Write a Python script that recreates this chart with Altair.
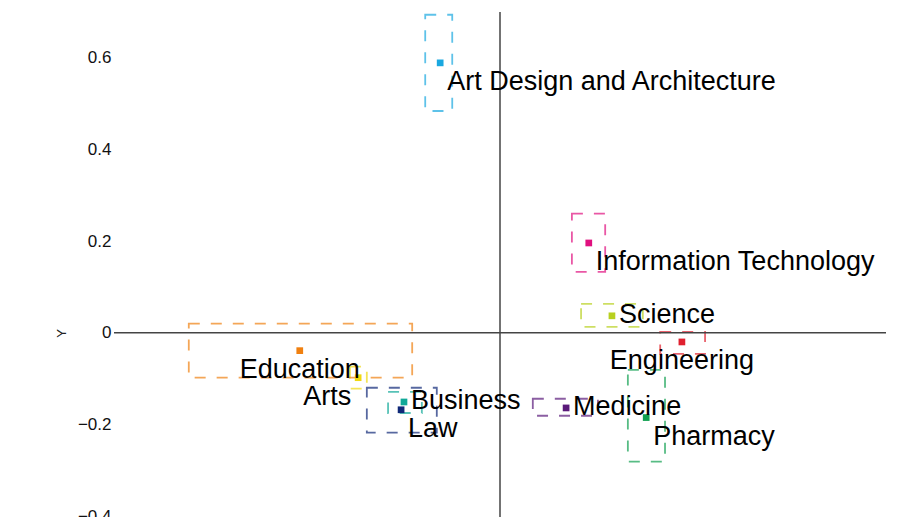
import altair as alt
import pandas as pd

categories = ["Art Design and Architecture", "Information Technology", "Science",
              "Engineering", "Pharmacy", "Medicine", "Business", "Law", "Arts", "Education"]
x_vals = [-0.124, 0.184, 0.232, 0.377, 0.303, 0.137, -0.199, -0.205, -0.294, -0.415]
y_vals = [0.589, 0.196, 0.037, -0.020, -0.185, -0.164, -0.151, -0.168, -0.098, -0.039]
x_lo = [-0.155, 0.149, 0.168, 0.332, 0.265, 0.068, -0.232, -0.276, -0.311, -0.645]
x_hi = [-0.099, 0.218, 0.296, 0.425, 0.342, 0.203, -0.162, -0.131, -0.276, -0.182]
y_lo = [0.484, 0.133, 0.013, -0.046, -0.281, -0.181, -0.175, -0.218, -0.122, -0.098]
y_hi = [0.694, 0.260, 0.063, 0.002, -0.081, -0.144, -0.129, -0.120, -0.074, 0.020]
colors = ["#1aa8e0", "#e0107f", "#b8d020", "#e0202f", "#10a050",
          "#5a1a7a", "#10a898", "#102878", "#f0d810", "#f08010"]
y_ticks = [-0.4, -0.2, 0, 0.2, 0.4, 0.6]

df = pd.DataFrame({"cat": categories, "x": x_vals, "y": y_vals,
                   "x_lo": x_lo, "x_hi": x_hi, "y_lo": y_lo, "y_hi": y_hi})

# label placement groups (not data)
right_below = ["Art Design and Architecture", "Information Technology", "Pharmacy", "Law"]
right_side = ["Science", "Medicine", "Business"]
below = ["Engineering", "Education"]
left_below = ["Arts"]

FONT = "Liberation Sans, Arial, sans-serif"

xs = alt.Scale(domain=[-0.8, 0.8], nice=False, zero=False)
ys = alt.Scale(domain=[-0.402, 0.7], nice=False, zero=False)
col = alt.Color("cat:N", scale=alt.Scale(domain=categories, range=colors), legend=None)

base = alt.Chart(df)

boxes = base.mark_rect(filled=False, strokeWidth=1.8, strokeDash=[11, 11], opacity=0.7).encode(
    x=alt.X("x_lo:Q", scale=xs, axis=None),
    x2="x_hi:Q",
    y=alt.Y("y_lo:Q", scale=ys,
            axis=alt.Axis(title="Y", values=y_ticks, format="~g", grid=False, domain=False,
                          ticks=False, labelPadding=3, labelFontSize=17, labelFont=FONT,
                          labelColor="#111", labelFlush=False, labelOverlap=False,
                          titleFontSize=13, titleFont=FONT, titleFontWeight="normal",
                          titleColor="#222", titleX=-46, titleY=321)),
    y2="y_hi:Q",
    stroke=alt.Stroke("cat:N", scale=alt.Scale(domain=categories, range=colors), legend=None),
)

hline = alt.Chart(pd.DataFrame({"v": [0]})).mark_rule(color="#444", strokeWidth=1.5).encode(
    y=alt.Y("v:Q", scale=ys))
vline = alt.Chart(pd.DataFrame({"v": [0]})).mark_rule(color="#444", strokeWidth=1.5).encode(
    x=alt.X("v:Q", scale=xs))

points = base.mark_square(size=45, opacity=1).encode(
    x=alt.X("x:Q", scale=xs), y=alt.Y("y:Q", scale=ys), color=col)

def labels(names, align, dx, dy):
    return base.transform_filter(
        alt.FieldOneOfPredicate(field="cat", oneOf=names)
    ).mark_text(align=align, baseline="middle", dx=dx, dy=dy, fontSize=27,
                font=FONT, color="#000").encode(
        x=alt.X("x:Q", scale=xs), y=alt.Y("y:Q", scale=ys), text="cat:N")

chart = alt.layer(
    boxes, hline, vline, points,
    labels(right_below, "left", 7, 19.5),
    labels(right_side, "left", 7, -1),
    labels(below, "center", 0, 19.5),
    labels(left_below, "right", -7, 19.5),
).properties(
    width=772, height=505,
    autosize=alt.AutoSizeParams(type="none"),
    padding={"left": 114, "top": 12, "right": 32, "bottom": 0},
    background="white",
).configure_view(strokeWidth=0, stroke=None)

chart.save("out.html", embed_options={"renderer": "svg", "actions": False})
